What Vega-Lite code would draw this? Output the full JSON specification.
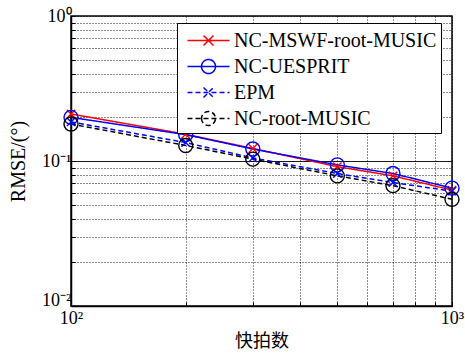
{
  "$schema": "https://vega.github.io/schema/vega-lite/v6.json",
  "width": 381,
  "height": 290,
  "autosize": "none",
  "padding": {"left": 71, "top": 16, "right": 13, "bottom": 50},
  "background": "white",
  "config": {
    "view": {"stroke": "black", "strokeWidth": 1.5},
    "axis": {
      "domainColor": "black",
      "domainWidth": 1.5,
      "gridColor": "black",
      "gridOpacity": 0.9,
      "gridWidth": 1,
      "tickColor": "black",
      "tickSize": -4,
      "labelColor": "black",
      "titleColor": "black",
      "labelFont": "Liberation Serif",
      "labelFontSize": 18,
      "labelOverlap": false,
      "labelFlush": false,
      "titleFontWeight": "normal"
    },
    "legend": {"labelFont": "Liberation Serif"}
  },
  "data": {
    "values": [
      {"n": 100, "series": "NC-MSWF-root-MUSIC", "rmse": 0.211},
      {"n": 200, "series": "NC-MSWF-root-MUSIC", "rmse": 0.153},
      {"n": 300, "series": "NC-MSWF-root-MUSIC", "rmse": 0.122},
      {"n": 500, "series": "NC-MSWF-root-MUSIC", "rmse": 0.0914},
      {"n": 700, "series": "NC-MSWF-root-MUSIC", "rmse": 0.079},
      {"n": 1000, "series": "NC-MSWF-root-MUSIC", "rmse": 0.063},
      {"n": 100, "series": "NC-UESPRIT", "rmse": 0.2},
      {"n": 200, "series": "NC-UESPRIT", "rmse": 0.152},
      {"n": 300, "series": "NC-UESPRIT", "rmse": 0.121},
      {"n": 500, "series": "NC-UESPRIT", "rmse": 0.094},
      {"n": 700, "series": "NC-UESPRIT", "rmse": 0.082},
      {"n": 1000, "series": "NC-UESPRIT", "rmse": 0.065},
      {"n": 100, "series": "EPM", "rmse": 0.186},
      {"n": 200, "series": "EPM", "rmse": 0.134},
      {"n": 300, "series": "EPM", "rmse": 0.105},
      {"n": 500, "series": "EPM", "rmse": 0.082},
      {"n": 700, "series": "EPM", "rmse": 0.071},
      {"n": 1000, "series": "EPM", "rmse": 0.062},
      {"n": 100, "series": "NC-root-MUSIC", "rmse": 0.18},
      {"n": 200, "series": "NC-root-MUSIC", "rmse": 0.128},
      {"n": 300, "series": "NC-root-MUSIC", "rmse": 0.103},
      {"n": 500, "series": "NC-root-MUSIC", "rmse": 0.079},
      {"n": 700, "series": "NC-root-MUSIC", "rmse": 0.0676},
      {"n": 1000, "series": "NC-root-MUSIC", "rmse": 0.0544}
    ]
  },
  "encoding": {
    "x": {
      "field": "n",
      "type": "quantitative",
      "scale": {"type": "log", "domain": [100, 1000], "nice": false},
      "axis": {
        "values": [100, 200, 300, 400, 500, 600, 700, 800, 900, 1000],
        "labelExpr": "datum.value == 100 ? '10²' : datum.value == 1000 ? '10³' : ''",
        "labelPadding": 7,
        "gridDash": [1, 2],
        "title": "快拍数",
        "titleFont": "Noto Sans CJK SC",
        "titleFontSize": 18,
        "titlePadding": 5
      }
    },
    "y": {
      "field": "rmse",
      "type": "quantitative",
      "scale": {"type": "log", "domain": [0.01, 1], "nice": false},
      "axis": {
        "values": [0.01, 0.02, 0.03, 0.04, 0.05, 0.06, 0.07, 0.08, 0.09, 0.1, 0.2, 0.3, 0.4, 0.5, 0.6, 0.7, 0.8, 0.9, 1],
        "labelExpr": "datum.value == 0.01 ? '10⁻²' : datum.value == 0.1 ? '10⁻¹' : datum.value == 1 ? '10⁰' : ''",
        "labelPadding": 4,
        "labelOffset": {"condition": {"test": "datum.value == 0.01", "value": -6}, "value": 0},
        "gridDash": {"condition": {"test": "datum.value == 0.1", "value": []}, "value": [1, 2]},
        "title": "RMSE/(°)",
        "titleFont": "Liberation Serif",
        "titleFontSize": 20,
        "titlePadding": 13
      }
    },
    "color": {
      "field": "series",
      "type": "nominal",
      "scale": {
        "domain": ["NC-MSWF-root-MUSIC", "NC-UESPRIT", "EPM", "NC-root-MUSIC"],
        "range": ["#ff0000", "#0000ff", "#0000ff", "#000000"]
      },
      "legend": {
        "orient": "none",
        "legendX": 106,
        "legendY": 7,
        "title": null,
        "labelFont": "Liberation Serif",
        "labelFontSize": 20,
        "labelColor": "black",
        "labelLimit": 400,
        "labelOffset": 12,
        "symbolSize": 625,
        "symbolOffset": 14,
        "symbolStrokeWidth": 1.5,
        "rowPadding": 2,
        "padding": 4,
        "strokeColor": "black",
        "fillColor": "white",
        "encode": {
          "symbols": {
            "update": {
              "shape": {"signal": "(datum.value == 'NC-UESPRIT' || datum.value == 'NC-root-MUSIC') ? 'M-1.68,0L1.68,0M-0.56,0A0.56,0.56 0 1,0 0.56,0A0.56,0.56 0 1,0 -0.56,0' : 'M-1.68,0L1.68,0M-0.4,-0.4L0.4,0.4M-0.4,0.4L0.4,-0.4'"},
              "strokeDash": {"signal": "(datum.value == 'EPM' || datum.value == 'NC-root-MUSIC') ? [5, 3] : [1, 0]"},
              "size": {"value": 625},
              "fill": {"value": "transparent"},
              "strokeWidth": {"value": 1.5},
              "opacity": {"value": 1}
            }
          }
        }
      }
    }
  },
  "layer": [
    {
      "mark": {"type": "line", "strokeWidth": 1.5},
      "encoding": {
        "strokeDash": {
          "field": "series",
          "type": "nominal",
          "scale": {
            "domain": ["NC-MSWF-root-MUSIC", "NC-UESPRIT", "EPM", "NC-root-MUSIC"],
            "range": [[1, 0], [1, 0], [5, 3], [5, 3]]
          },
          "legend": null
        }
      }
    },
    {
      "mark": {"type": "point", "filled": false, "strokeWidth": 1.4, "size": 196, "opacity": 1},
      "encoding": {
        "shape": {
          "condition": {"test": "datum.series == 'NC-UESPRIT' || datum.series == 'NC-root-MUSIC'", "value": "circle"},
          "value": "M-0.6,-0.6L0.6,0.6M-0.6,0.6L0.6,-0.6"
        }
      }
    }
  ]
}
